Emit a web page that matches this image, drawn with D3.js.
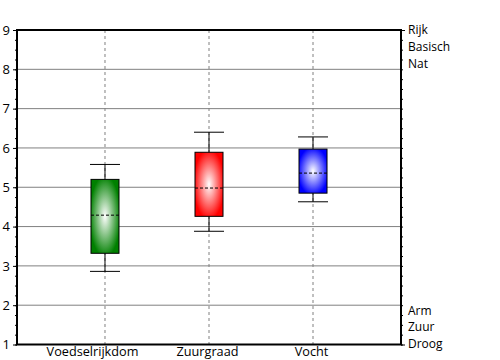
<!DOCTYPE html>
<html><head><meta charset="utf-8">
<script src="https://cdn.jsdelivr.net/npm/d3@7"></script>
<style>body{margin:0;background:#fff}svg{display:block}text{font-family:"Open Sans",sans-serif;fill:#000}</style>
</head><body><svg id="c" width="500" height="360"></svg>
<script>
const categories = ["Voedselrijkdom", "Zuurgraad", "Vocht"];
const whiskerLow  = [2.86, 3.88, 4.63];
const boxLow      = [3.32, 4.26, 4.85];
const median      = [4.29, 4.98, 5.36];
const boxHigh     = [5.20, 5.89, 5.97];
const whiskerHigh = [5.58, 6.40, 6.28];
const colors      = ["#008000", "#ff0000", "#0000ff"];
const yTicks = [1,2,3,4,5,6,7,8,9];
const rightTop = ["Rijk", "Basisch", "Nat"];
const rightBottom = ["Arm", "Zuur", "Droog"];

const L = 17, R = 401, T = 30, B = 344.5;
const svg = d3.select("#c");
const x = d3.scalePoint().domain(categories).range([L, R]).padding(0.846);
const y = d3.scaleLinear().domain([1, 9]).range([B, T]);

const defs = svg.append("defs");
colors.forEach((c, i) => {
  const g = defs.append("radialGradient").attr("id", "g" + i)
    .attr("cx", "50%").attr("cy", "50%").attr("r", "55%");
  g.append("stop").attr("offset", "0%").attr("stop-color", "#fff");
  g.append("stop").attr("offset", "100%").attr("stop-color", c);
});

// horizontal grid
svg.append("g").selectAll("line").data(yTicks.filter(d => d > 1 && d < 9)).join("line")
  .attr("x1", L).attr("x2", R).attr("y1", d => y(d)).attr("y2", d => y(d))
  .attr("stroke", "#808080").attr("stroke-width", 1);
// vertical dashed grid
svg.append("g").selectAll("line").data(categories).join("line")
  .attr("x1", d => x(d)).attr("x2", d => x(d)).attr("y1", T).attr("y2", B)
  .attr("stroke", "#808080").attr("stroke-dasharray", "3,3");

const minor = d3.range(1, 9.001, 0.25);
// left axis
const la = svg.append("g").attr("transform", `translate(${L},0)`)
  .call(d3.axisLeft(y).tickValues(yTicks).tickSize(4).tickPadding(3).tickFormat(d3.format("d")));
la.select(".domain").remove();
la.selectAll("text").style("font-size", "13px").attr("fill", "#000");
const lm = svg.append("g").attr("transform", `translate(${L},0)`)
  .call(d3.axisLeft(y).tickValues(minor).tickSize(2).tickFormat(""));
lm.select(".domain").remove();

// right axis
const ra = svg.append("g").attr("transform", `translate(${R},0)`)
  .call(d3.axisRight(y).tickValues([1, 9]).tickSize(4).tickPadding(4).tickFormat(""));
ra.select(".domain").remove();
const rm = svg.append("g").attr("transform", `translate(${R},0)`)
  .call(d3.axisRight(y).tickValues(minor).tickSize(2).tickFormat(""));
rm.select(".domain").remove();
const rt = svg.append("text").attr("x", R + 7).attr("y", y(9)).style("font-size", "12px");
rightTop.forEach((t, i) => rt.append("tspan").attr("x", R + 7).attr("dy", i === 0 ? "0.35em" : "1.4em").text(t));
const rb = svg.append("text").attr("x", R + 7).attr("y", y(1)).style("font-size", "12px");
rightBottom.forEach((t, i) => rb.append("tspan").attr("x", R + 7).attr("dy", i === 0 ? "-2.5em" : "1.4em").text(t));

// bottom axis labels
const ba = svg.append("g").attr("transform", `translate(0,${B})`)
  .call(d3.axisBottom(x).tickSize(0).tickPadding(2.5));
ba.select(".domain").remove();
ba.selectAll("text").style("font-size", "12.7px").attr("fill", "#000")
  .attr("dx", (d, i) => i === 0 ? -13 : -2);

// boxes
const bw = 28, cw = 30;
categories.forEach((c, i) => {
  const cx = x(c);
  const g = svg.append("g");
  g.append("line").attr("x1", cx).attr("x2", cx).attr("y1", y(whiskerHigh[i])).attr("y2", y(boxHigh[i])).attr("stroke", "#000");
  g.append("line").attr("x1", cx).attr("x2", cx).attr("y1", y(boxLow[i])).attr("y2", y(whiskerLow[i])).attr("stroke", "#000");
  g.append("line").attr("x1", cx - cw/2).attr("x2", cx + cw/2).attr("y1", y(whiskerHigh[i])).attr("y2", y(whiskerHigh[i])).attr("stroke", "#000");
  g.append("line").attr("x1", cx - cw/2).attr("x2", cx + cw/2).attr("y1", y(whiskerLow[i])).attr("y2", y(whiskerLow[i])).attr("stroke", "#000");
  g.append("rect").attr("x", cx - bw/2).attr("width", bw)
    .attr("y", y(boxHigh[i])).attr("height", y(boxLow[i]) - y(boxHigh[i]))
    .attr("fill", `url(#g${i})`).attr("stroke", "#000").attr("stroke-width", 1);
  g.append("line").attr("x1", cx - bw/2).attr("x2", cx + bw/2).attr("y1", y(median[i])).attr("y2", y(median[i]))
    .attr("stroke", "#000").attr("stroke-dasharray", "3,2");
});

// frame
svg.append("rect").attr("x", L).attr("y", T).attr("width", R - L).attr("height", B - T)
  .attr("fill", "none").attr("stroke", "#000").attr("stroke-width", 2);
</script></body></html>
